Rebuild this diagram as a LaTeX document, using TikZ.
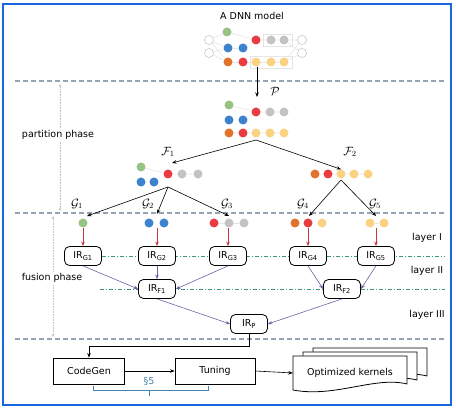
\documentclass[tikz,border=0pt]{standalone}
\usepackage{fontspec}
\setmainfont{DejaVu Sans}
\usetikzlibrary{arrows.meta,positioning,backgrounds,calc}

\definecolor{frameblue}{RGB}{25,100,225}
\definecolor{sepgray}{RGB}{150,163,178}
\definecolor{layergreen}{RGB}{60,150,125}
\definecolor{arrred}{RGB}{200,55,60}
\definecolor{arrpurple}{RGB}{115,95,165}
\definecolor{refblue}{RGB}{70,130,170}
\definecolor{dgreen}{RGB}{150,195,130}
\definecolor{dblue}{RGB}{60,130,205}
\definecolor{dred}{RGB}{232,60,65}
\definecolor{dgray}{RGB}{195,195,195}
\definecolor{dorange}{RGB}{225,115,45}
\definecolor{dyellow}{RGB}{250,210,130}

\begin{document}
\begin{tikzpicture}[x=1pt, y=-1pt,
    font=\fontsize{9.5}{11}\selectfont,
    dot/.style={circle, inner sep=0pt, minimum size=9pt},
    odot/.style={dot, draw=black!25, fill=white, line width=0.5pt},
    link/.style={draw=black!10, line width=0.6pt},
    irbox/.style={draw, rounded corners=5pt, line width=0.8pt, minimum width=37pt, minimum height=19pt, inner sep=1pt, fill=white},
    plainbox/.style={draw, line width=0.8pt, minimum height=26pt, fill=white},
    arr/.style={-{Stealth[length=4.5pt,width=3.5pt]}, line width=0.6pt},
    redarr/.style={arr, draw=arrred},
    purarr/.style={arr, draw=arrpurple},
    sepline/.style={draw=sepgray, line width=1.6pt, dash pattern=on 5pt off 3pt},
    layerline/.style={draw=layergreen, line width=0.6pt, dash pattern=on 4pt off 2pt on 1pt off 2pt},
    phasearr/.style={draw=black!25, densely dotted, line width=0.6pt, {Stealth[length=3pt,width=2.5pt]}-{Stealth[length=3pt,width=2.5pt]}},
    lbl/.style={inner sep=1pt, font=\fontsize{12}{14}\selectfont}
]
\useasboundingbox (0,0) rectangle (456,411);
\draw[frameblue, line width=1.5pt] (3,4) rectangle (451,405);

% phase separators
\draw[sepline] (15,81) -- (445,81);
\draw[sepline] (15,213) -- (445,213);
\draw[sepline] (15,339) -- (445,339);

% the DNN model
\node (title) at (252,16) {A DNN model};
\node[odot] (in1) at (209,40) {};
\node[odot] (in2) at (209,53) {};
\node[odot] (out1) at (302,40) {};
\node[odot] (out2) at (302,53) {};
\node[dot, fill=dgreen] (mg) at (227,32) {};
\foreach \x/\c [count=\i] in {228/dblue,243/dblue} \node[dot, fill=\c] (mb\i) at (\x,48) {};
\foreach \x/\c [count=\i] in {256/dred,271/dgray,284/dgray} \node[dot, fill=\c] (ma\i) at (\x,40) {};
\foreach \x/\c [count=\i] in {228/dorange,243/dred,256/dyellow,271/dyellow,284/dyellow} \node[dot, fill=\c] (mc\i) at (\x,62) {};
\begin{scope}[on background layer]
  \draw[link] (263,34) rectangle (292,46);
  \draw[link] (250,56) rectangle (292,68);
  \draw[link] (in1) -- (mg) (in1) -- (mb1) (in2) -- (mb1) (in2) -- (mc1) (in1) -- (mc1);
  \draw[link] (mg) -- (ma1) -- (ma3) -- (out1) (ma3) -- (out2) (mc5) -- (out2) (mc5) -- (out1);
  \draw[link] (mb1) -- (mb2) (mc1) -- (mc5);
\end{scope}
\coordinate (dnnout) at (257,67);
\coordinate (pin) at (257,97);
\draw[arr] (dnnout) -- (pin);

% partition P
\node[lbl] (plbl) at (275,91) {$\mathcal{P}$};
\node[dot, fill=dgreen] (pg) at (229,105) {};
\foreach \x/\c [count=\i] in {256/dred,270/dgray,284/dgray} \node[dot, fill=\c] (pa\i) at (\x,112) {};
\foreach \x/\c [count=\i] in {229/dblue,243/dblue} \node[dot, fill=\c] (pb\i) at (\x,120) {};
\foreach \x/\c [count=\i] in {229/dorange,243/dred,256/dyellow,270/dyellow,284/dyellow} \node[dot, fill=\c] (pc\i) at (\x,133) {};
\begin{scope}[on background layer]
  \draw[link] (pg) -- (pa1) -- (pa3) (pc1) -- (pc5);
\end{scope}

% F1 and F2
\node[lbl] (f1lbl) at (168,152) {$\mathcal{F}_1$};
\node[lbl] (f2lbl) at (350,152) {$\mathcal{F}_2$};
\node[dot, fill=dgreen] (fg) at (141,167) {};
\foreach \x/\c [count=\i] in {168/dred,182/dgray,198/dgray} \node[dot, fill=\c] (fa\i) at (\x,174) {};
\foreach \x/\c [count=\i] in {141/dblue,154/dblue} \node[dot, fill=\c] (fb\i) at (\x,182) {};
\foreach \x/\c [count=\i] in {315/dorange,328/dred,341/dyellow,354/dyellow,368/dyellow} \node[dot, fill=\c] (fc\i) at (\x,174) {};
\begin{scope}[on background layer]
  \draw[link] (fg) -- (fa1) -- (fa3) (fc1) -- (fc5);
\end{scope}
\coordinate (pbot) at (256,140);
\coordinate (f1top) at (172,163);
\draw[arr] (pbot) -- (f1top);
\draw[arr] (pbot) -- (fc3.north);

% G1 ... G5
\foreach \x/\i in {77/1,148/2,227/3,303/4,375/5} \node[lbl] (g\i lbl) at (\x,204) {$\mathcal{G}_{\i}$};
\node[dot, fill=dgreen] (g1a) at (83,223) {};
\foreach \x/\c [count=\i] in {149/dblue,164/dblue} \node[dot, fill=\c] (g2\i) at (\x,223) {};
\foreach \x/\c [count=\i] in {214/dred,229/dgray,244/dgray} \node[dot, fill=\c] (g3\i) at (\x,223) {};
\foreach \x/\c [count=\i] in {295/dorange,308/dred,322/dyellow} \node[dot, fill=\c] (g4\i) at (\x,223) {};
\foreach \x/\c [count=\i] in {370/dyellow,384/dyellow} \node[dot, fill=\c] (g5\i) at (\x,223) {};
\begin{scope}[on background layer]
  \draw[link] (g31) -- (g33) (g51) -- (g52);
\end{scope}
\coordinate (f1bot) at (168,187);
\coordinate (f2bot) at (341,180);
\coordinate (g1in) at (87,216);
\coordinate (g2in) at (157,214);
\coordinate (g3in) at (229,216);
\coordinate (g4in) at (309,216);
\coordinate (g5in) at (376,216);
\draw[arr] (f1bot) -- (g1in);
\draw[arr] (f1bot) -- (g2in);
\draw[arr] (f1bot) -- (g3in);
\draw[arr] (f2bot) -- (g4in);
\draw[arr] (f2bot) -- (g5in);

% IR boxes
\node[irbox] (irg1) at (83,256) {IR\textsubscript{G1}};
\node[irbox] (irg2) at (157,256) {IR\textsubscript{G2}};
\node[irbox] (irg3) at (228,256) {IR\textsubscript{G3}};
\node[irbox] (irg4) at (308,256) {IR\textsubscript{G4}};
\node[irbox] (irg5) at (376,256) {IR\textsubscript{G5}};
\node[irbox] (irf1) at (157,289) {IR\textsubscript{F1}};
\node[irbox] (irf2) at (342,289) {IR\textsubscript{F2}};
\node[irbox] (irp) at (249,324) {IR\textsubscript{P}};

\begin{scope}[on background layer]
  \draw[layerline] (irg1.east) -- (445,256);
  \draw[layerline] (100,289) -- (445,289);
\end{scope}

\draw[redarr] (irg1 |- g1a.south) -- (irg1.north);
\draw[redarr] (irg2 |- g21.south) -- (irg2.north);
\draw[redarr] (irg3 |- g32.south) -- (irg3.north);
\draw[redarr] (irg4 |- g42.south) -- (irg4.north);
\draw[redarr] (irg5 |- g51.south) -- (irg5.north);

\draw[purarr] (irg1.south) -- (irf1.west);
\draw[purarr] (irg2.south) -- (irf1.north);
\draw[purarr] (irg3.south) -- (irf1.east);
\draw[purarr] (irg4.south) -- (irf2.west);
\draw[purarr] (irg5.south) -- (irf2.east);
\draw[purarr] (irf1.south) -- (irp.west);
\draw[purarr] (irf2.south) -- (irp.east);

% layers and phases
\node (lay1) at (427,238) {layer I};
\node (lay2) at (427,271) {layer II};
\node (lay3) at (427,315) {layer III};

\coordinate (pt1) at (60,84);
\coordinate (pt2) at (60,211);
\coordinate (ft1) at (53,216);
\coordinate (ft2) at (53,337);
\draw[phasearr] (pt1) -- (pt2);
\draw[phasearr] (ft1) -- (ft2);
\node[fill=white, inner sep=1pt] (partlbl) at (58,135) {partition phase};
\node[fill=white, inner sep=1pt] (fuslbl) at (52,278) {fusion phase};

% code generation
\node[plainbox, minimum width=71pt] (codegen) at (89,371) {CodeGen};
\node[plainbox, minimum width=80pt] (tuning) at (215,371) {Tuning};
\node[minimum width=114pt, minimum height=30pt, inner sep=0pt] (kern) at (350,373) {};
\foreach \d in {2,1,0}
  \draw[fill=white, line width=0.8pt, shift={(10*\d,-4*\d)}]
    (293,356) -- (407,356) -- (407,384) .. controls (375,376) and (335,398) .. (293,390) -- cycle;
\node at (kern) {Optimized kernels};

\draw[arr] (irp.south) -- ++(0,12) -| (codegen.north);
\draw[arr] (codegen.east) -- (tuning.west);
\draw[arr] (tuning.east) -- (kern.west);

\node[text=refblue] (sec) at (149,381) {§5};
\draw[refblue, line width=0.7pt] (93,386) -- (93,390) -- (208,390) -- (208,386);
\draw[refblue, line width=0.7pt] (149,390) -- (149,396);
\end{tikzpicture}
\end{document}
